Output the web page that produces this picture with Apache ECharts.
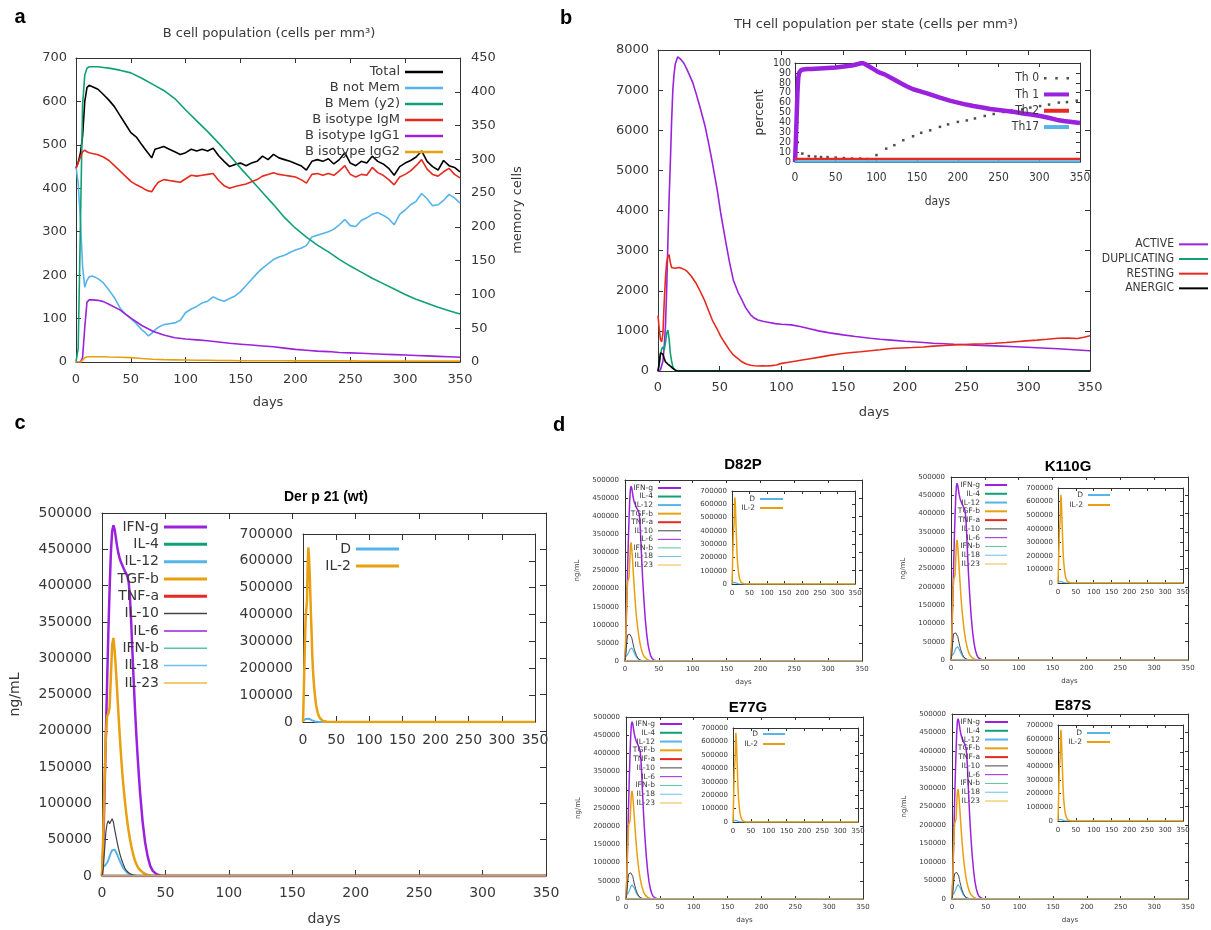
<!DOCTYPE html>
<html lang="en">
<head>
<meta charset="UTF-8">
<title>Immune simulation</title>
<script src="https://cdn.jsdelivr.net/npm/echarts@6/dist/echarts.min.js"></script>
<style>
  html, body { margin: 0; padding: 0; background: #fff; }
  #main { width: 1211px; height: 930px; }
</style>
</head>
<body>
<div id="main"></div>
<script>
// ---------- a : B cell population ----------
var aDays = [0,2,4,6,8,10,12,15,20,25,30,35,40,45,50,55,60,63,66,69,72,75,
  80,85,90,95,100,105,110,115,120,125,130,135,140,145,150,155,160,165,170,175,180,185,190,195,
  200,205,210,215,220,225,230,235,240,245,250,255,260,265,270,275,280,285,290,295,
  300,305,310,315,320,325,330,335,340,345,350];
var aTotal = [446,460,480,520,600,632,637,634,628,616,603,588,568,548,528,518,500,490,480,470,490,492,
  496,490,484,478,482,490,486,490,486,492,475,462,450,455,458,452,458,462,474,466,478,470,466,462,
  457,452,442,462,466,462,468,456,466,482,458,452,462,458,474,462,456,446,430,450,
  458,464,472,486,462,450,442,464,452,448,438];
var aNotMem = [452,410,330,220,172,188,196,198,192,182,166,148,125,110,100,88,74,68,60,66,74,80,
  86,88,90,96,114,122,128,136,140,150,144,140,146,152,162,176,190,204,216,226,236,242,246,252,
  258,262,268,288,292,296,300,306,316,328,314,312,326,332,340,344,338,330,316,340,
  350,362,370,388,376,360,362,372,386,378,366];
var aIgM = [446,458,472,484,488,484,482,480,477,472,464,452,440,428,416,408,402,397,394,392,404,414,
  420,418,416,414,422,430,428,430,432,434,418,406,400,404,407,410,415,420,428,432,436,432,430,428,
  426,420,412,432,434,430,434,430,440,452,432,426,432,430,448,436,430,420,408,426,
  432,440,452,466,444,432,428,438,446,432,424];
var aSmoothDays = [0,2,4,6,8,10,12,15,20,25,30,40,50,60,70,80,90,100,110,120,130,140,150,160,170,
  180,190,200,210,220,230,240,250,260,270,280,290,300,310,320,330,340,350];
var aMem = [0,20,200,380,425,435,437,437,437,436,435,432,428,420,411,402,390,373,357,341,324,306,287,269,251,
  233,214,198,185,173,163,152,142,133,124,116,108,100,93,87,81,76,71];
var aIgG1 = [0,0,0,10,80,138,143,143,142,139,133,120,101,84,71,62,56,53,51,49,46,43,41,39,37,
  35,32,29,27,25,24,22,21,20,19,18,17,16,15,14,13,12,11];
var aIgG2 = [0,0,0,4,10,12,12,12,12,12,11.5,11,10,8,6.5,5.5,5,4.5,4,4,3.5,3.5,3,3,3,
  3,3,2.5,2.5,2.5,2.5,2.5,2.5,2,2,2,2,2,2,2,2,2,2];

// ---------- b : TH cell population per state ----------
var bActDays = [0,2,4,5,6,7,8,9,10,11,12,13,14,16,18,21,24,28,31,34,38,41,44,48,51,55,58,61,65,68,71,75,78,81,85,88,
  95,100,108,115,122,130,139,150,160,172,180,189,200,206,215,223,240,256,273,290,307,324,340,350];
var bActive = [0,30,250,600,1100,2000,3200,4300,5200,6200,7000,7400,7650,7830,7780,7670,7480,7200,6900,6580,6120,5680,5200,4510,3900,3200,2700,2270,1950,1770,1580,1400,1320,1270,1240,1220,
  1180,1165,1150,1110,1060,1000,950,900,860,815,790,770,740,730,710,690,665,645,625,605,580,555,525,505];
var bRestDays = [0,1,2,3,4,5,6,7,8,9,10,11,12,14,17,19,22,24,27,31,34,38,41,44,48,51,55,58,61,65,68,71,75,78,81,85,88,92,96,100,
  106,112,118,122,130,139,148,155,164,172,180,189,197,206,215,223,232,240,248,256,265,273,282,290,298,307,315,324,332,340,345,350];
var bResting = [1380,1050,780,730,940,1700,2300,2700,2850,2900,2700,2580,2560,2560,2580,2560,2520,2470,2360,2180,2000,1740,1500,1270,1040,850,660,520,400,300,230,180,145,130,125,130,125,135,150,190,
  220,250,280,300,340,390,430,455,480,505,530,560,575,585,600,620,635,650,660,670,680,690,710,730,750,770,790,815,820,810,840,880];
var bEarlyDays = [0,1,2,3,4,5,6,7,8,9,10,11,12,13,14,15,16,350];
var bDup = [0,150,400,550,600,520,700,940,1020,800,440,250,110,50,20,5,0,0];
var bAnergic = [0,200,450,490,420,320,230,200,170,150,120,90,65,40,20,8,0,0];

// inset b : percent per phenotype
var th1Days = [0,1,2,3,4,5,7,10,15,20,30,40,50,60,70,75,80,83,86,90,95,100,105,110,120,130,137,145,155,165,
  178,190,200,210,219,230,240,250,260,270,280,290,301,310,322,330,340,350];
var th1 = [0,20,45,70,85,90,92.5,93.5,94,94,94.5,95,95.5,96.5,97.5,98.5,99.5,100,99,97,94.5,92,90,88.5,84,79.5,76.5,73.5,71,68.5,
  65,62,60,58,56.5,55,53.5,52.5,51.5,50.5,49,48,46.5,45,42.5,41.5,40.5,39.5];
var th0Days = [3,9,17,25,32,40,50,60,70,80,89,100,112,122,133,145,155,166,178,188,200,211,221,233,244,256,266,279,289,301,312,324,334,346];
var th0 = [20,8.5,6,5.5,5,5,4.5,4,3.5,3.5,3,7,13.5,17,22,26,29.5,32,35.5,38,40.5,42,44,46.5,48.5,50.5,52,53,55,56.5,58,60,60.5,62];
var flatDays = [0, 350];
var th2 = [3, 3];
var th17 = [0.5, 0.5];
var zero = [0, 0];

// ---------- c, d : cytokines ----------
var cDays = [0,1,2,3,4,5,6,7,8,9,10,11,12,13,14,15,16,17,18,19,20,21,22,23,24,25,26,27,28,29,30,
  32,34,36,38,40,43,46,50,100,200,350];
var ifngWt = [0,40000,115000,190000,265000,335000,395000,445000,475000,483000,477000,465000,453000,444000,437000,432000,428000,424000,420000,417000,
  413000,405000,385000,350000,308000,268000,230000,197000,167000,140000,115000,75000,46000,27000,14000,7000,2500,700,0,0,0,0];
var tgfbWt = [0,60000,130000,190000,220000,224000,232000,275000,318000,328000,310000,283000,253000,222000,193000,166000,142000,122000,104000,88000,
  74000,62000,51000,42000,34000,27000,21000,17000,13000,10000,8000,5000,3000,1500,800,300,0,0,0,0,0,0];
var il10Wt = [0,10000,35000,60000,72000,76000,72000,74000,79000,74000,64000,55000,46000,38000,31000,25000,20000,15000,11000,8000,
  6000,4500,3200,2300,1600,1100,700,400,200,100,0,0,0,0,0,0,0,0,0,0,0,0];
var il12Wt = [12000,12500,13500,15000,18000,22000,27000,32000,35500,37000,36000,33000,29500,25000,21000,17000,13500,10500,8000,6000,
  4500,3300,2400,1700,1200,800,500,300,150,80,0,0,0,0,0,0,0,0,0,0,0,0];
var ifngMut = [0,42000,118000,195000,270000,340000,400000,450000,480000,487000,481000,469000,457000,447000,440000,434000,430000,426000,422000,418000,
  414000,406000,386000,352000,310000,270000,232000,199000,169000,142000,117000,77000,47000,28000,15000,7500,2600,700,0,0,0,0];
var tgfbMut = [0,55000,120000,175000,205000,210000,215000,255000,290000,297000,282000,258000,232000,204000,178000,153000,131000,112000,95000,80000,
  67000,56000,46000,38000,31000,25000,19000,15000,12000,9000,7000,4500,2700,1400,700,300,0,0,0,0,0,0];
var il10Mut = [0,9000,33000,57000,69000,73000,70000,72000,75000,71000,62000,53000,44000,37000,30000,24000,19000,14500,10500,7800,
  5800,4300,3100,2200,1500,1000,650,380,200,90,0,0,0,0,0,0,0,0,0,0,0,0];
var il12Mut = [12000,12500,14000,15500,18500,23000,28000,33500,37000,39000,38000,35000,31000,26500,22000,18000,14000,11000,8500,6300,
  4700,3500,2500,1800,1300,850,550,320,160,80,0,0,0,0,0,0,0,0,0,0,0,0];
var insDays = [0,1,2,3,4,5,6,7,8,9,10,11,12,13,14,15,16,17,18,19,20,22,24,26,28,30,33,36,40,50,150,350];
var il2Wt = [0,90000,200000,300000,390000,420000,450000,580000,650000,620000,560000,480000,400000,330000,250000,195000,156000,125000,100000,78000,
  60000,36000,22000,13000,7000,4000,1800,600,0,0,0,0];
var il2Mut = [0,95000,210000,315000,400000,430000,465000,595000,665000,635000,572000,490000,408000,330000,258000,202000,160000,128000,102000,80000,
  62000,38000,23000,13500,7500,4200,1800,600,0,0,0,0];
var dWt = [4000,6000,8000,10000,11000,12000,12500,13000,13000,12500,11500,10000,8500,7000,5500,4300,3300,2500,1900,1400,
  1000,600,300,150,80,0,0,0,0,0,0,0];
var thickNames = ['IFN-g', 'IL-4', 'IL-12', 'TGF-b', 'TNF-a'];
var thinNames = ['IL-10', 'IL-6', 'IFN-b', 'IL-18', 'IL-23'];

var SANS = "'DejaVu Sans', sans-serif";
var NARROW = "'DejaVu Sans Condensed', 'Liberation Sans Narrow', 'DejaVu Sans', sans-serif";
var ARIAL = "'Liberation Sans', Arial, sans-serif";
var TXT = '#383838';
var BOX = '#333333';
var PURPLE = '#9a22dc', GREEN = '#10a077', BLUE = '#56b4e9', ORANGE = '#e8a010', RED = '#e62a1f';

var option = {
  animation: false,
  backgroundColor: '#ffffff',
  textStyle: { fontFamily: SANS },
  grid: [], xAxis: [], yAxis: [], legend: [], series: [], graphic: []
};

function plain(v) { return String(v); }
function pairs(xs, ys) { return xs.map(function (x, i) { return [x, ys[i]]; }); }

function addPlot(p) {
  var gi = option.grid.length;
  var font = p.font || SANS;
  var line = { show: true, onZero: false, lineStyle: { color: BOX, width: 1 } };
  var tick = { show: true, inside: true, length: p.tick, lineStyle: { color: BOX, width: 1 } };
  var nameStyle = { fontSize: p.fs, color: TXT, fontFamily: font };
  option.grid.push({ left: p.l, top: p.t, width: p.r - p.l, height: p.b - p.t, containLabel: false, outerBoundsMode: 'none' });
  var xi = option.xAxis.length;
  option.xAxis.push({
    type: 'value', gridIndex: gi, position: 'bottom', min: 0, max: 350, interval: 50,
    axisLine: line, axisTick: tick, splitLine: { show: false },
    axisLabel: { margin: p.xm, fontSize: p.fs, color: TXT, fontFamily: font, formatter: plain, showMinLabel: true, showMaxLabel: true, hideOverlap: false },
    name: p.xname || '', nameLocation: 'middle', nameGap: p.xgap || 0, nameTextStyle: nameStyle, nameMoveOverlap: false
  });
  option.xAxis.push({
    type: 'value', gridIndex: gi, position: 'top', min: 0, max: 350, interval: 50,
    axisLine: line, axisTick: tick, splitLine: { show: false }, axisLabel: { show: false }
  });
  var yi = option.yAxis.length;
  // crowded tick labels (inset b) are split over two stacked axes so none gets dropped
  var yFormat = p.split ? function (v) { return v % (2 * p.yint) === 0 ? String(v) : ''; } : plain;
  var yLabel = { margin: p.ym, fontSize: p.yfs || p.fs, color: TXT, fontFamily: font, formatter: yFormat, showMinLabel: true, showMaxLabel: true, hideOverlap: false };
  option.yAxis.push({
    type: 'value', gridIndex: gi, position: 'left', min: 0, max: p.ymax, interval: p.yint,
    axisLine: line, axisTick: tick, splitLine: { show: false },
    axisLabel: yLabel,
    name: p.yname || '', nameLocation: 'middle', nameGap: p.ygap || 0, nameRotate: 90,
    nameTextStyle: { fontSize: p.nfs || p.fs, color: TXT, fontFamily: p.yfont || font }, nameMoveOverlap: false
  });
  if (p.y2) {
    option.yAxis.push({
      type: 'value', gridIndex: gi, position: 'right', min: 0, max: p.y2.max, interval: p.y2.int,
      axisLine: line, axisTick: tick, splitLine: { show: false },
      axisLabel: { margin: p.y2.m, fontSize: p.fs, color: TXT, fontFamily: font, formatter: plain, showMinLabel: true, showMaxLabel: true },
      name: p.y2.name, nameLocation: 'middle', nameGap: p.y2.gap, nameRotate: 90, nameTextStyle: nameStyle, nameMoveOverlap: false
    });
  } else {
    option.yAxis.push({
      type: 'value', gridIndex: gi, position: 'right', min: 0, max: p.ymax, interval: p.yint,
      axisLine: line, axisTick: tick, splitLine: { show: false }, axisLabel: { show: false }
    });
  }
  if (p.split) {
    option.yAxis.push({
      type: 'value', gridIndex: gi, position: 'left', offset: 0, min: 0, max: p.ymax, interval: p.yint,
      axisLine: { show: false }, axisTick: { show: false }, splitLine: { show: false },
      axisLabel: { margin: p.ym, fontSize: p.yfs || p.fs, color: TXT, fontFamily: font, showMinLabel: true, showMaxLabel: true, hideOverlap: false,
        formatter: function (v) { return v % (2 * p.yint) === 0 ? '' : String(v); } }
    });
  }
  return { x: xi, y: yi, y2: yi + 1 };
}

function addLine(ax, name, xs, ys, color, width, yIndex) {
  option.series.push({
    type: 'line', name: name, xAxisIndex: ax.x, yAxisIndex: yIndex == null ? ax.y : yIndex,
    data: pairs(xs, ys), symbol: 'none', silent: true,
    lineStyle: { color: color, width: width }, itemStyle: { color: color }
  });
}

function addLegend(names, right, top, w, h, fs, lh, font) {
  option.legend.push({
    orient: 'vertical', align: 'right', right: right, top: top, padding: 0, itemGap: 0,
    itemWidth: w, itemHeight: h, icon: 'rect', selectedMode: false, data: names,
    itemStyle: { borderWidth: 0 },
    textStyle: { fontSize: fs, lineHeight: lh, color: TXT, fontFamily: font || SANS }
  });
}

function addText(t, x, y, font, color) {
  option.graphic.push({
    type: 'text', x: x, y: y, silent: true,
    style: { text: t, font: font, fill: color || '#000', align: 'center', verticalAlign: 'middle', textAlign: 'center', textVerticalAlign: 'middle' }
  });
}

// cytokine plot with its IL-2 inset
function cytokinePanel(m, ins, set, lg, wd) {
  var pm = addPlot(m);
  var pi = addPlot(ins);
  addLine(pm, 'IFN-g', cDays, set.ifng, PURPLE, wd.thick);
  addLine(pm, 'IL-4', flatDays, zero, GREEN, wd.thick);
  addLine(pm, 'IL-12', cDays, set.il12, BLUE, wd.mid);
  addLine(pm, 'TGF-b', cDays, set.tgfb, ORANGE, wd.thick);
  addLine(pm, 'TNF-a', flatDays, zero, RED, wd.thick);
  addLine(pm, 'IL-10', cDays, set.il10, '#444444', wd.thin);
  addLine(pm, 'IL-6', flatDays, zero, PURPLE, wd.thin);
  addLine(pm, 'IFN-b', flatDays, zero, '#5ec3a0', wd.thin);
  addLine(pm, 'IL-18', flatDays, zero, '#6cc0ee', wd.thin);
  addLine(pm, 'IL-23', flatDays, zero, '#f0b840', wd.thin);
  addLine(pi, 'D', insDays, set.d, BLUE, wd.mid);
  addLine(pi, 'IL-2', insDays, set.il2, ORANGE, wd.thick);
  addLegend(thickNames, lg.right, lg.top, lg.w, lg.h1, lg.fs, lg.lh);
  addLegend(thinNames, lg.right, lg.top + 5 * lg.lh, lg.w, lg.h2, lg.fs, lg.lh);
  addLegend(['D', 'IL-2'], lg.iright, lg.itop, lg.w, lg.h1, lg.fs, lg.ilh);
}

// ----- a -----
var pa = addPlot({ l: 76, t: 58, r: 460, b: 362, ymax: 700, yint: 100, fs: 13, tick: 5, xm: 11, ym: 9,
  xname: 'days', xgap: 34, y2: { max: 450, int: 50, m: 11, name: 'memory cells', gap: 51 } });
addLine(pa, 'Total', aDays, aTotal, '#000000', 1.6);
addLine(pa, 'B not Mem', aDays, aNotMem, BLUE, 1.6);
addLine(pa, 'B Mem (y2)', aSmoothDays, aMem, GREEN, 1.6, pa.y2);
addLine(pa, 'B isotype IgM', aDays, aIgM, RED, 1.6);
addLine(pa, 'B isotype IgG1', aSmoothDays, aIgG1, PURPLE, 1.6);
addLine(pa, 'B isotype IgG2', aSmoothDays, aIgG2, ORANGE, 1.6);
addLegend(['Total', 'B not Mem', 'B Mem (y2)', 'B isotype IgM', 'B isotype IgG1', 'B isotype IgG2'], 768, 64, 38, 2.5, 13, 16);
addText('B cell population (cells per mm³)', 269, 34, '13px ' + SANS, TXT);

// ----- b -----
var pb = addPlot({ l: 658, t: 50, r: 1090, b: 371, ymax: 8000, yint: 1000, fs: 13, tick: 5, xm: 10, ym: 9, xname: 'days', xgap: 35 });
addLine(pb, 'ACTIVE', bActDays, bActive, PURPLE, 1.6);
addLine(pb, 'DUPLICATING', bEarlyDays, bDup, GREEN, 1.6);
addLine(pb, 'RESTING', bRestDays, bResting, RED, 1.6);
addLine(pb, 'ANERGIC', bEarlyDays, bAnergic, '#000000', 1.6);
addLegend(['ACTIVE', 'DUPLICATING', 'RESTING', 'ANERGIC'], 3, 237, 29, 2, 12, 14.67, NARROW);
addText('TH cell population per state (cells per mm³)', 876, 25, '13px ' + SANS, TXT);

var pbi = addPlot({ l: 795, t: 63, r: 1080, b: 162, ymax: 100, yint: 10, fs: 12, yfs: 10.5, split: true, font: NARROW, tick: 4,
  xm: 10, ym: 4, xname: 'days', xgap: 34, yname: 'percent', ygap: 29, yfont: SANS });
option.series.push({
  type: 'scatter', name: 'Th 0', xAxisIndex: pbi.x, yAxisIndex: pbi.y, data: pairs(th0Days, th0),
  symbol: 'rect', symbolSize: 2.5, silent: true, itemStyle: { color: '#222222' }
});
addLine(pbi, 'Th 1', th1Days, th1, PURPLE, 4.5);
addLine(pbi, 'Th 2', flatDays, th2, RED, 2.5);
addLine(pbi, 'Th17', flatDays, th17, BLUE, 2.5);
addLegend([{ name: 'Th 0', icon: 'path://M0,0h2v2h-2zM9,0h2v2h-2zM18,0h2v2h-2z' }, 'Th 1', 'Th 2', 'Th17'],
  142, 70, 25, 4, 12, 16.3, NARROW);

// ----- c -----
var wtSet = { ifng: ifngWt, tgfb: tgfbWt, il10: il10Wt, il12: il12Wt, il2: il2Wt, d: dWt };
var mutSet = { ifng: ifngMut, tgfb: tgfbMut, il10: il10Mut, il12: il12Mut, il2: il2Mut, d: dWt };
cytokinePanel(
  { l: 102, t: 513, r: 546, b: 876, ymax: 500000, yint: 50000, fs: 14, tick: 6, xm: 10, ym: 10, xname: 'days', xgap: 36, yname: 'ng/mL', ygap: 80 },
  { l: 303, t: 534, r: 535, b: 722, ymax: 700000, yint: 100000, fs: 14, tick: 6, xm: 11, ym: 10 },
  wtSet,
  { right: 1004, top: 518.3, w: 43, h1: 3, h2: 1.5, fs: 14, lh: 17.33, iright: 812, itop: 540.5, ilh: 17 },
  { thick: 2.5, mid: 2, thin: 1.2 });
addText('Der p 21 (wt)', 326, 497, 'bold 14px ' + ARIAL, '#000');

// ----- d -----
var dWd = { thick: 1.5, mid: 1.2, thin: 1 };
cytokinePanel(
  { l: 625, t: 480, r: 862, b: 661, ymax: 500000, yint: 50000, fs: 7, tick: 3, xm: 5, ym: 6, xname: 'days', xgap: 18, yname: 'ng/mL', ygap: 44 },
  { l: 732, t: 491, r: 855, b: 584, ymax: 700000, yint: 100000, fs: 7, tick: 3, xm: 6, ym: 5 },
  wtSet,
  { right: 530, top: 483.7, w: 23, h1: 2, h2: 1, fs: 7.5, lh: 8.56, iright: 428, itop: 494.5, ilh: 9 }, dWd);
addText('D82P', 743, 465, 'bold 15px ' + ARIAL, '#000');

cytokinePanel(
  { l: 951, t: 477, r: 1188, b: 660, ymax: 500000, yint: 50000, fs: 7, tick: 3, xm: 5, ym: 6, xname: 'days', xgap: 18, yname: 'ng/mL', ygap: 44 },
  { l: 1058, t: 488, r: 1183, b: 583, ymax: 700000, yint: 100000, fs: 7, tick: 3, xm: 6, ym: 5 },
  wtSet,
  { right: 204, top: 480.6, w: 22, h1: 2, h2: 1, fs: 7.5, lh: 8.78, iright: 101, itop: 490, ilh: 10 }, dWd);
addText('K110G', 1068, 467, 'bold 15px ' + ARIAL, '#000');

cytokinePanel(
  { l: 626, t: 717, r: 863, b: 899, ymax: 500000, yint: 50000, fs: 7, tick: 3, xm: 5, ym: 6, xname: 'days', xgap: 18, yname: 'ng/mL', ygap: 44 },
  { l: 733, t: 728, r: 858, b: 822, ymax: 700000, yint: 100000, fs: 7, tick: 3, xm: 6, ym: 5 },
  mutSet,
  { right: 529, top: 719.6, w: 22, h1: 2, h2: 1, fs: 7.5, lh: 8.78, iright: 426, itop: 729, ilh: 10 }, dWd);
addText('E77G', 748, 708, 'bold 15px ' + ARIAL, '#000');

cytokinePanel(
  { l: 952, t: 714, r: 1188, b: 899, ymax: 500000, yint: 50000, fs: 7, tick: 3, xm: 5, ym: 6, xname: 'days', xgap: 18, yname: 'ng/mL', ygap: 44 },
  { l: 1058, t: 725, r: 1183, b: 821, ymax: 700000, yint: 100000, fs: 7, tick: 3, xm: 6, ym: 5 },
  mutSet,
  { right: 203, top: 717.6, w: 23, h1: 2, h2: 1, fs: 7.5, lh: 8.78, iright: 101, itop: 728.5, ilh: 9 }, dWd);
addText('E87S', 1073, 706, 'bold 15px ' + ARIAL, '#000');

// panel letters
addText('a', 20, 17, 'bold 20px ' + ARIAL, '#000');
addText('b', 566, 18, 'bold 20px ' + ARIAL, '#000');
addText('c', 20, 423, 'bold 20px ' + ARIAL, '#000');
addText('d', 559, 425, 'bold 20px ' + ARIAL, '#000');

var chart = echarts.init(document.getElementById('main'));
chart.setOption(option);
</script>
</body>
</html>
